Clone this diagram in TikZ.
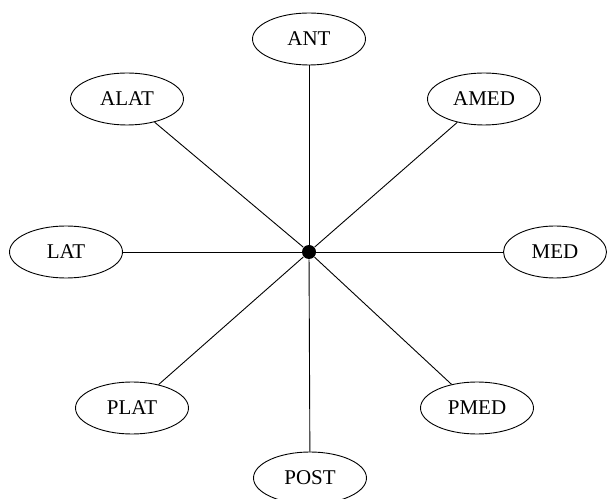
\documentclass[tikz,border=0pt]{standalone}
\usepackage{amsmath}
\usepackage{fontspec}
\setmainfont{Liberation Serif}
\usetikzlibrary{shapes.geometric,arrows}

\begin{document}
\begin{tikzpicture}[x=1pt, y=1pt, line width=0.9pt,
  leaf/.style={draw, ellipse, minimum width=113pt, minimum height=52pt, inner sep=0pt, font=\fontsize{21}{24}\selectfont}]
\useasboundingbox (0,0) rectangle (607,498);
\node [circle, fill, inner sep=0pt, minimum size=14pt](hub) at (309,246){};
\node [leaf](ant) at (309,459){ANT};
\node [leaf](alat) at (127,399){ALAT};
\node [leaf](amed) at (484,399){AMED};
\node [leaf](lat) at (66,246){LAT};
\node [leaf, minimum width=103pt](med) at (555,246){MED};
\node [leaf](plat) at (132,90){PLAT};
\node [leaf](pmed) at (477,90){PMED};
\node [leaf](post) at (310,20){POST};
\draw (hub) -- (ant);
\draw (hub) -- (alat);
\draw (hub) -- (amed);
\draw (hub) -- (lat);
\draw (hub) -- (med);
\draw (hub) -- (plat);
\draw (hub) -- (pmed);
\draw (hub) -- (post);
\end{tikzpicture}
\end{document}
